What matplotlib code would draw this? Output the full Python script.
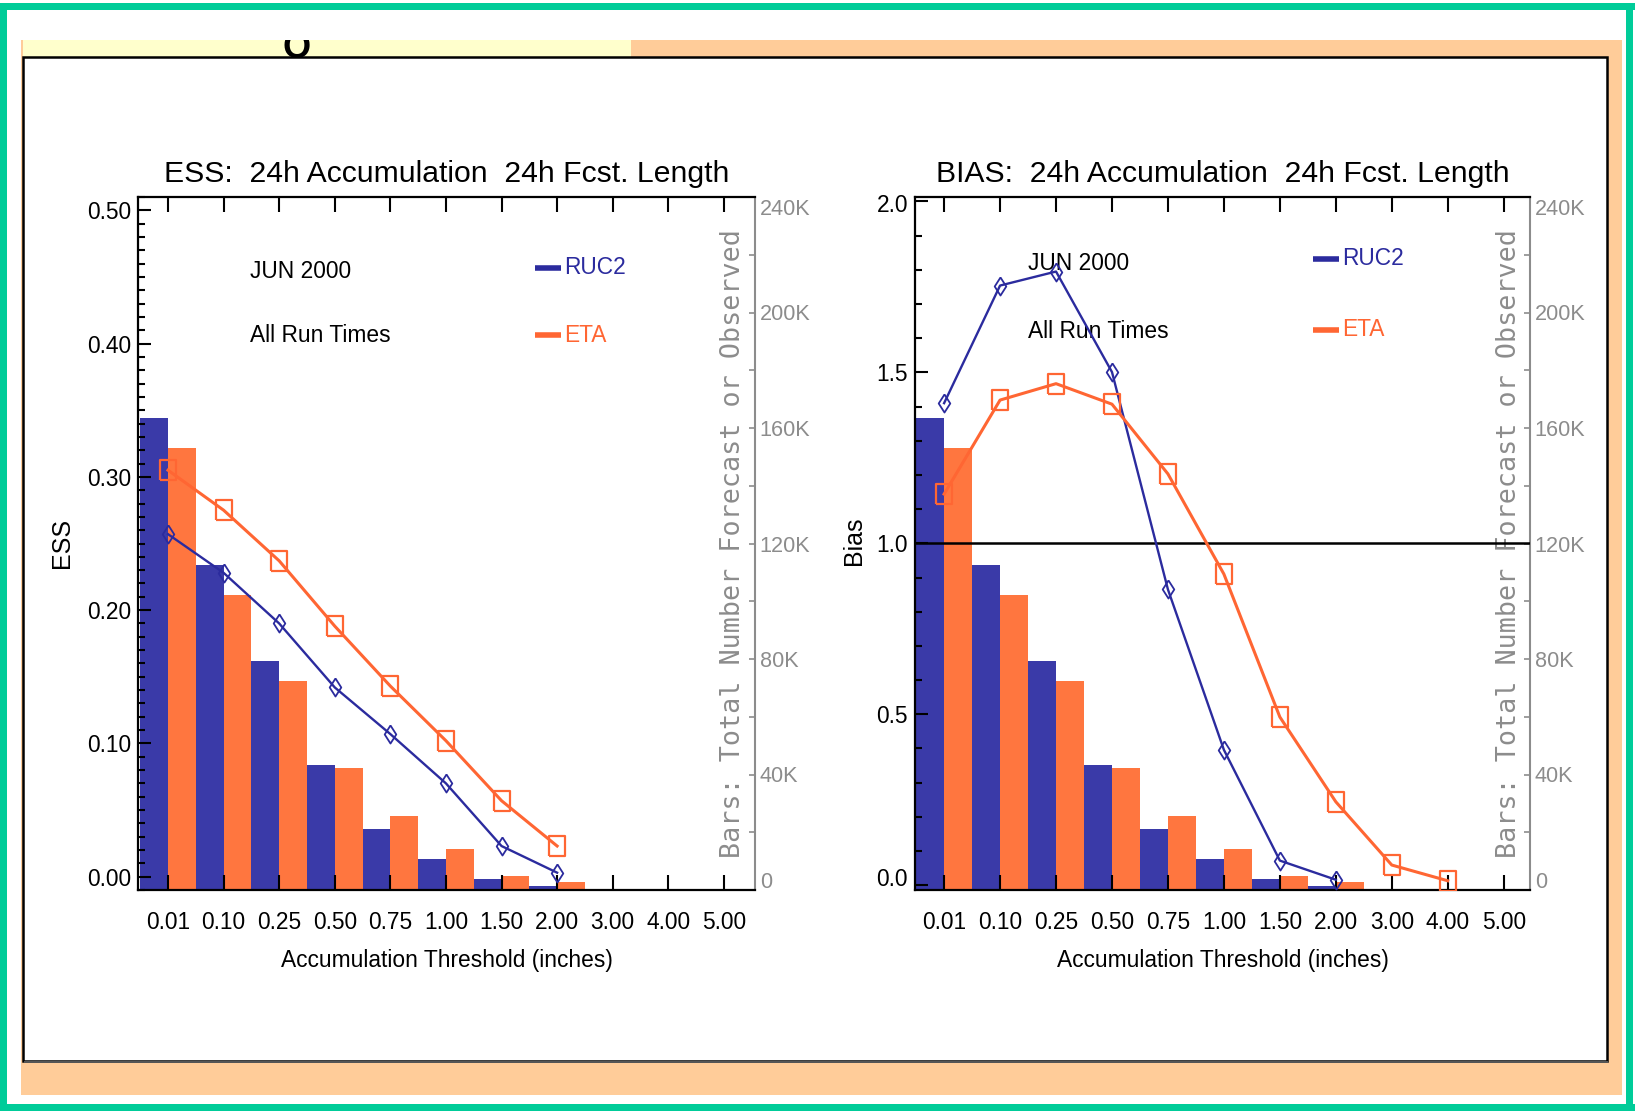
import matplotlib
matplotlib.use("Agg")
import matplotlib.pyplot as plt
from matplotlib.patches import Rectangle
from matplotlib.ticker import MultipleLocator, FixedLocator, FuncFormatter
from matplotlib import font_manager
import numpy as np

# ---------------------------------------------------------------- data
thresholds = ["0.01", "0.10", "0.25", "0.50", "0.75", "1.00",
              "1.50", "2.00", "3.00", "4.00", "5.00"]

# Bars: total number of forecast / observed points (thousands)
ruc2_counts_k = [163.6, 112.7, 79.3, 43.4, 21.2, 10.7, 3.8, 1.4, 0, 0, 0]
eta_counts_k = [153.1, 102.3, 72.4, 42.2, 25.7, 14.1, 4.8, 2.6, 0, 0, 0]

# Equitable skill score per threshold
ruc2_ess = [0.257, 0.228, 0.190, 0.142, 0.107, 0.070, 0.023, 0.003]
eta_ess = [0.305, 0.275, 0.237, 0.188, 0.143, 0.102, 0.057, 0.023]

# Frequency bias per threshold
ruc2_bias = [1.410, 1.754, 1.795, 1.501, 0.865, 0.396, 0.072, 0.016]
eta_bias = [1.144, 1.419, 1.467, 1.407, 1.203, 0.910, 0.492, 0.244, 0.059, 0.013]

count_ticks_k = [0, 40, 80, 120, 160, 200, 240]
count_tick_labels = ["0", "40K", "80K", "120K", "160K", "200K", "240K"]

# ---------------------------------------------------------------- style
BAR_BLUE = "#3A3AA8"
BAR_ORANGE = "#FF763F"
LINE_BLUE = "#2B2B9E"
LINE_ORANGE = "#FF6633"
GRAY = "#8C8C8C"
GREEN = "#00CC99"
PEACH = "#FFCC99"
YELLOW = "#FFFFCC"

available = {f.name for f in font_manager.fontManager.ttflist}
if "Liberation Sans Narrow" in available:
    MAIN_FONT, WS = "Liberation Sans Narrow", 1.0
else:
    MAIN_FONT, WS = "Liberation Sans", 0.82
plt.rcParams["font.family"] = [MAIN_FONT, "DejaVu Sans"]

W, H = 1635, 1113
fig = plt.figure(figsize=(W / 100, H / 100), dpi=100)
fig.patch.set_facecolor("white")


def px_rect(x0, y0, x1, y1, **kw):
    """Rectangle in figure fraction from pixel corners (origin top-left)."""
    return Rectangle((x0 / W, 1 - y1 / H), (x1 - x0) / W, (y1 - y0) / H,
                     transform=fig.transFigure, zorder=-10, **kw)


# page frame
for r in [(0, 3, W, 10), (0, 1104, W, 1111), (0, 3, 7, 1111), (1626, 3, 1633, 1111)]:
    fig.add_artist(px_rect(*r, facecolor=GREEN, edgecolor="none"))
fig.add_artist(px_rect(21, 40, 1622, 1095, facecolor=PEACH, edgecolor="none"))
fig.add_artist(px_rect(23, 40, 631, 57, facecolor=YELLOW, edgecolor="none"))
fig.add_artist(px_rect(23, 57, 1607, 1061, facecolor="white",
                       edgecolor="black", linewidth=1.8))
fig.add_artist(px_rect(24, 1061, 1608, 1063, facecolor="#555555", edgecolor="none"))

# clipped glyph peeking into the top strip
strip = fig.add_axes([23 / W, 1 - 57 / H, (631 - 23) / W, 17 / H])
strip.patch.set_visible(False)
for s in strip.spines.values():
    s.set_visible(False)
strip.set_xticks([])
strip.set_yticks([])
strip.text((297 - 23) / 608, -0.05, "O", transform=strip.transAxes,
           ha="center", va="baseline", fontsize=26, fontweight="bold",
           family="Liberation Sans", clip_on=True)

# markers
diamond = [(0, 0.5), (0.32, 0), (0, -0.5), (-0.32, 0), (0, 0.5)]
square = [(-0.4, -0.5), (0.4, -0.5), (0.4, 0.5), (-0.4, 0.5), (-0.4, -0.5)]

x = np.arange(len(thresholds))


def panel(rect_px, xlim, ylim, ruc2, eta, title, ylabel, ymajor, yminor,
          yfmt, ylabel_px, legend_px, text_px, ref_line=None, inset_ends=None):
    x0, y0, x1, y1 = rect_px
    aw, ah = x1 - x0, y1 - y0
    ax = fig.add_axes([x0 / W, 1 - y1 / H, aw / W, ah / H])
    axb = ax.twinx()
    ax.set_zorder(axb.get_zorder() + 1)
    ax.patch.set_visible(False)

    def fx(px):
        return (px - x0) / aw

    def fy(py):
        return (y1 - py) / ah

    # count bars on the right-hand axis
    for offs, counts, col in ((-0.25, ruc2_counts_k, BAR_BLUE),
                              (0.25, eta_counts_k, BAR_ORANGE)):
        axb.bar(x + offs, counts, width=0.5, color=col, linewidth=0)
    axb.set_ylim(0, 240)
    axb.yaxis.set_major_locator(FixedLocator(count_ticks_k))
    # end labels sit just inside the axis range and are drawn separately
    axb.set_yticklabels([""] + count_tick_labels[1:-1] + [""])
    axb.yaxis.set_minor_locator(FixedLocator(np.arange(20, 240, 40)))
    axb.tick_params(axis="y", which="both", direction="in", length=4.5,
                    width=1.2, color=GRAY, labelcolor=GRAY, pad=3.5,
                    labelsize=19 * WS)
    lab_x = 1 + 5 / aw
    axb.text(lab_x, fy(882), count_tick_labels[0], transform=axb.transAxes,
             ha="left", va="center", color=GRAY, fontsize=19 * WS)
    axb.text(lab_x, fy(209.5), count_tick_labels[-1], transform=axb.transAxes,
             ha="left", va="center", color=GRAY, fontsize=19 * WS)
    for name, s in axb.spines.items():
        s.set_visible(name == "right")
    axb.spines["right"].set_color(GRAY)
    axb.spines["right"].set_linewidth(1.5)

    # score lines on the left-hand axis
    if ref_line is not None:
        ax.axhline(ref_line, color="black", linewidth=1.8, zorder=1.5)
    ax.plot(x[:len(ruc2)], ruc2, color=LINE_BLUE, linewidth=1.7,
            marker=diamond, markersize=13, markerfacecolor="none",
            markeredgecolor=LINE_BLUE, markeredgewidth=1.3, zorder=3)
    ax.plot(x[:len(eta)], eta, color=LINE_ORANGE, linewidth=2.2,
            marker=square, markersize=14, markerfacecolor="none",
            markeredgecolor=LINE_ORANGE, markeredgewidth=1.6, zorder=3)

    ax.set_xlim(*xlim)
    ax.set_ylim(*ylim)
    ax.set_xticks(x)
    ax.set_xticklabels(thresholds)
    ax.tick_params(axis="x", which="major", direction="in", length=10.5,
                   width=1.5, top=True, bottom=True, pad=15, labelsize=20 * WS)
    ax.yaxis.set_major_locator(MultipleLocator(ymajor))
    ax.yaxis.set_minor_locator(MultipleLocator(yminor))
    hidden = {} if inset_ends is None else inset_ends
    hidden_vals = [float(k) for k in hidden]
    ax.yaxis.set_major_formatter(FuncFormatter(
        lambda v, pos: "" if any(abs(v - h) < 1e-9 for h in hidden_vals)
        else yfmt.format(v)))
    for lab, ypx in hidden.items():
        ax.text(-7 / aw, fy(ypx), lab, transform=ax.transAxes, ha="right",
                va="center", fontsize=20 * WS)
    ax.tick_params(axis="y", which="major", direction="in", length=9.5,
                   width=1.5, left=True, right=False, pad=5, labelsize=20 * WS)
    ax.tick_params(axis="y", which="minor", direction="in", length=5,
                   width=1.5, left=True, right=False)
    ax.spines["right"].set_visible(False)
    for name in ("left", "top", "bottom"):
        ax.spines[name].set_linewidth(1.6)

    ax.text(0.5, 1 + 14.5 / ah, title, transform=ax.transAxes, ha="center",
            va="baseline", fontsize=26.5 * WS)
    ax.text(0.5, fy(960), "Accumulation Threshold (inches)",
            transform=ax.transAxes, ha="center", va="center",
            fontsize=20 * WS)
    ax.text(fx(ylabel_px[0]), fy(ylabel_px[1]), ylabel, transform=ax.transAxes,
            rotation=90, ha="center", va="center", fontsize=18,
            family="Liberation Sans")
    ax.text(fx(ylabel_px[2]), fy(543.5), "Bars: Total Number Forecast or Observed",
            transform=ax.transAxes, rotation=90, ha="center", va="center",
            fontsize=19.3, family="DejaVu Sans Mono", color=GRAY, zorder=1)

    # annotation block
    tx, ty1, ty2 = text_px
    ax.text(fx(tx), fy(ty1), "JUN 2000", transform=ax.transAxes, ha="left",
            va="center", fontsize=20 * WS, zorder=1)
    ax.text(fx(tx), fy(ty2), "All Run Times", transform=ax.transAxes,
            ha="left", va="center", fontsize=20 * WS, zorder=1)
    lx0, lx1, ly1, ly2 = legend_px
    for ly, col, lab in ((ly1, LINE_BLUE, "RUC2"), (ly2, LINE_ORANGE, "ETA")):
        ax.plot([fx(lx0), fx(lx1)], [fy(ly), fy(ly)], transform=ax.transAxes,
                color=col, linewidth=4, solid_capstyle="butt", clip_on=False)
        ax.text(fx(lx1 + 3), fy(ly), lab, transform=ax.transAxes, ha="left",
                va="center", fontsize=20 * WS, color=col)
    return ax


panel((138, 197, 755, 890), (-0.54, 10.56), (-0.01, 0.51), ruc2_ess, eta_ess,
      "ESS:  24h Accumulation  24h Fcst. Length", "ESS", 0.1, 0.01, "{:.2f}",
      (61.5, 543, 733), (535, 561, 268, 335), (250, 271, 336))

panel((915, 197, 1530, 890), (-0.52, 10.47), (-0.014, 2.013), ruc2_bias, eta_bias,
      "BIAS:  24h Accumulation  24h Fcst. Length", "Bias", 0.5, 0.1, "{:.1f}",
      (854, 541, 1509), (1313, 1339, 258.5, 329.5), (1028, 263.5, 331),
      ref_line=1.0, inset_ends={"0.0": 880, "2.0": 205.5})

fig.savefig("out.png", dpi=100, facecolor=fig.get_facecolor())
